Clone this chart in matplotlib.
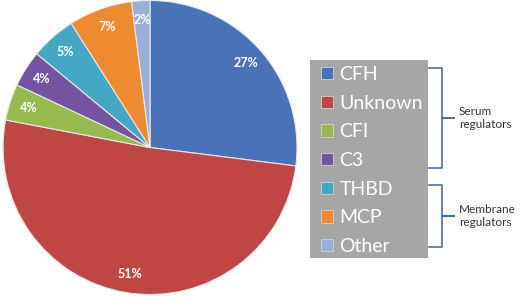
import matplotlib
matplotlib.use("Agg")
import matplotlib.pyplot as plt
from matplotlib.lines import Line2D
from matplotlib.patches import Rectangle

plt.rcParams['font.family'] = ['Lato', 'DejaVu Sans']

# data
labels = ['CFH', 'Unknown', 'CFI', 'C3', 'THBD', 'MCP', 'Other']
shares = [27, 51, 4, 4, 5, 7, 2]
colors = ['#4a72b8', '#bf4644', '#97b94e', '#7454a0', '#46a7c4', '#ee8a2f', '#9aaedb']
groups = ['Serum\nregulators', 'Membrane\nregulators']

W, H = 520, 297
fig = plt.figure(figsize=(W / 100, H / 100), dpi=100)

# pie axes, center ~(150,147) px, radius ~147
cx, cy, r = 150, 147.5, 147
ax = fig.add_axes([(cx - r) / W, (H - cy - r) / H, 2 * r / W, 2 * r / H])
wedges, texts, autotexts = ax.pie(
    shares, colors=colors, startangle=90, counterclock=False,
    autopct='%d%%', pctdistance=0.87,
    wedgeprops=dict(edgecolor='#e8e8e8', linewidth=0.8),
    textprops=dict(color='white', fontsize=9, fontweight='bold'))
ax.set_xlim(-1.0, 1.0)
ax.set_ylim(-1.0, 1.0)
ax.set_aspect('equal')

# grey legend box
fig.add_artist(Rectangle((310 / W, 1 - 258 / H), 118 / W, 198 / H,
                         transform=fig.transFigure, facecolor='#a6a6a6',
                         edgecolor='none', zorder=1))
leg = fig.legend(wedges, labels, loc='upper left',
                 bbox_to_anchor=(321 / W, 1 - 66 / H),
                 frameon=False, fontsize=14, labelcolor='white',
                 handlelength=0.6, handleheight=0.6, handletextpad=0.35,
                 labelspacing=0.6, borderpad=0, borderaxespad=0)
leg.set_zorder(2)
for h in leg.legend_handles:
    h.set_edgecolor('#dddddd')
    h.set_linewidth(0.5)

# brackets
bc = '#4a6fa5'
def bracket(y0, y1, x0=429, x1=442, xt=454):
    ym = (y0 + y1) / 2
    xs = [x0, x1, x1, xt, x1, x1, x0]
    ys = [y0, y0, ym, ym, ym, y1, y1]
    fig.add_artist(Line2D([x / W for x in xs], [1 - y / H for y in ys],
                          color=bc, linewidth=1.2))
    return ym

ym1 = bracket(68, 168)
ym2 = bracket(185, 247)
for g, ym in zip(groups, [ym1, ym2]):
    fig.text(459 / W, 1 - ym / H, g, ha='left', va='center',
             fontsize=8.5, color='#333333', linespacing=1.25)

fig.savefig('out.png', dpi=100)
